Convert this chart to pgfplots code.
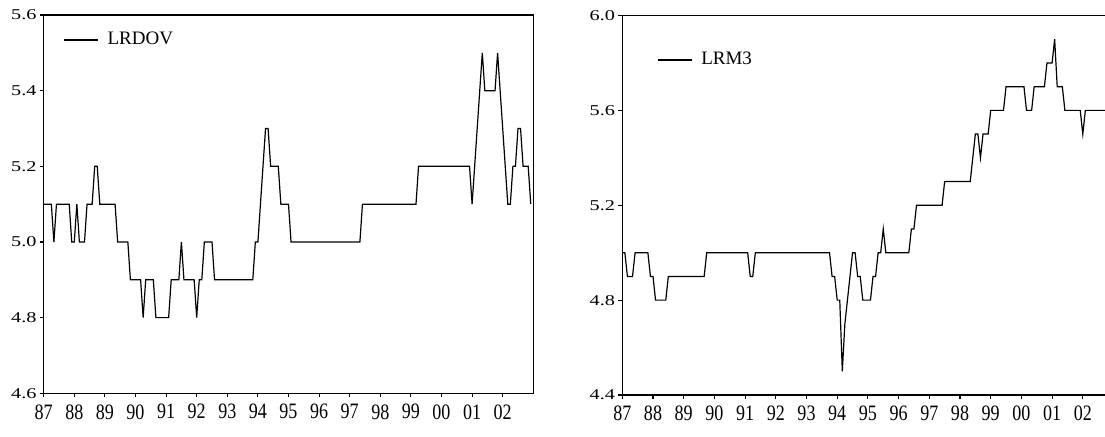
\documentclass[border=0pt]{standalone}
\usepackage{fontspec}
\setmainfont{Liberation Serif}
\usepackage{pgfplots}
\pgfplotsset{compat=1.18}
\begin{document}
\begin{tikzpicture}
\useasboundingbox (0,0) rectangle (552.5pt,218pt);
\pgfplotsset{
  mystyle/.style={
    scale only axis,
    xmin=0, xmax=192,
    xtick={0,12,24,36,48,60,72,84,96,108,120,132,144,156,168,180},
    xticklabels={87,88,89,90,91,92,93,94,95,96,97,98,99,00,01,02},
    tick align=outside,
    xtick pos=bottom, ytick pos=left,
    minor tick num=0,
    axis line style={line width=0.7pt},
    major tick length=2pt,
    tick style={line width=0.55pt, black},
    /pgf/number format/assume math mode=true,
    yticklabel style={font=\fontsize{7.5}{8}\selectfont, xscale=1.35, inner sep=1pt,
      /pgf/number format/fixed, /pgf/number format/fixed zerofill, /pgf/number format/precision=1},
    xticklabel style={font=\fontsize{11}{12}\selectfont, xscale=0.82},
    legend style={draw=none, fill=none, anchor=west, inner sep=0pt, column sep=4.5pt,
      nodes={inner sep=0pt}, font=\fontsize{9.5}{10}\selectfont},
    legend image code/.code={\draw[#1] (0pt,0pt) -- (17pt,0pt);},
    cycle list={{black, no marks, line width=0.6pt}},
  }
}
\begin{axis}[mystyle,
  at={(21.85pt,21.35pt)}, anchor=south west,
  width=244.8pt, height=189.15pt,
  ymin=4.6, ymax=5.6,
  ytick={4.6,4.8,5.0,5.2,5.4,5.6},
  legend style={at={(0.0394,0.934)}},
]
\addplot[black, no marks, line width=0.6pt] coordinates {
(0,5.1)(3,5.1)(4,5.0)(5,5.1)(10,5.1)(11,5.0)(12,5.0)(13,5.1)(14,5.0)(16,5.0)
(17,5.1)(19,5.1)(20,5.2)(21,5.2)(22,5.1)(28,5.1)(29,5.0)(33,5.0)(34,4.9)(38,4.9)
(39,4.8)(40,4.9)(43,4.9)(44,4.8)(49,4.8)(50,4.9)(53,4.9)(54,5.0)(55,4.9)(59,4.9)
(60,4.8)(61,4.9)(62,4.9)(63,5.0)(66,5.0)(67,4.9)(82,4.9)(83,5.0)(84,5.0)(85,5.1)
(86,5.2)(87,5.3)(88,5.3)(89,5.2)(92,5.2)(93,5.1)(96,5.1)(97,5.0)(124,5.0)(125,5.1)
(146,5.1)(147,5.2)(167,5.2)(168,5.1)(169,5.2)(170,5.3)(171,5.4)(172,5.5)(173,5.4)(177,5.4)
(178,5.5)(179,5.4)(180,5.3)(181,5.2)(182,5.1)(183,5.1)(184,5.2)(185,5.2)(186,5.3)(187,5.3)
(188,5.2)(190,5.2)(191,5.1)
};
\addlegendentry{LRDOV}
\end{axis}
\begin{axis}[mystyle,
  at={(311.15pt,20.5pt)}, anchor=south west,
  width=245.6pt, height=189.75pt,
  ymin=4.4, ymax=6.0,
  ytick={4.4,4.8,5.2,5.6,6.0},
  legend style={at={(0.070,0.883)}},
]
\addplot[black, no marks, line width=0.6pt] coordinates {
(0,5.0)(1,5.0)(2,4.9)(4,4.9)(5,5.0)(10,5.0)(11,4.9)(12,4.9)(13,4.8)(17,4.8)
(18,4.9)(32,4.9)(33,5.0)(49,5.0)(50,4.9)(51,4.9)(52,5.0)(81,5.0)(82,4.9)(83,4.9)
(84,4.8)(85,4.8)(86,4.5)(87,4.7)(90,5.0)(91,5.0)(92,4.9)(93,4.9)(94,4.8)(97,4.8)
(98,4.9)(99,4.9)(100,5.0)(101,5.0)(102,5.1)(103,5.0)(112,5.0)(113,5.1)(114,5.1)(115,5.2)
(125,5.2)(126,5.3)(136,5.3)(137,5.4)(138,5.5)(139,5.5)(140,5.4)(141,5.5)(143,5.5)(144,5.6)
(149,5.6)(150,5.7)(157,5.7)(158,5.6)(160,5.6)(161,5.7)(165,5.7)(166,5.8)(168,5.8)(169,5.9)
(170,5.7)(172,5.7)(173,5.6)(179,5.6)(180,5.5)(181,5.6)(191,5.6)
};
\addlegendentry{LRM3}
\end{axis}
\end{tikzpicture}
\end{document}
